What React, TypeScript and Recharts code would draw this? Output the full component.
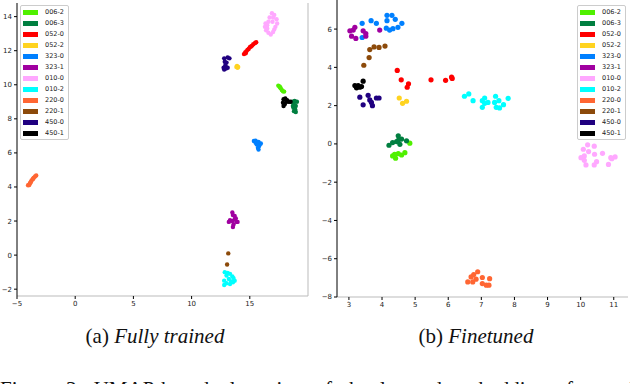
import React from 'react';
import { ScatterChart, Scatter, XAxis, YAxis, Legend } from 'recharts';

const categories = ['006-2', '006-3', '052-0', '052-2', '323-0', '323-1', '010-0', '010-2', '220-0', '220-1', '450-0', '450-1'];
const seriesColors = ['#50f000', '#007f40', '#ff0000', '#ffd320', '#0080ff', '#a000a0', '#ffa8ff', '#00ffff', '#ff6633', '#8c4a0a', '#200080', '#000000'];

// (a) Fully trained
const full_006_2 = [[17.45, 9.95], [17.55, 9.9], [17.65, 9.8], [17.75, 9.7], [17.85, 9.62], [17.95, 9.6], [17.6, 9.85]];
const full_006_3 = [[18.65, 9.0], [18.85, 9.05], [19.05, 9.0], [18.8, 8.85], [18.95, 8.75], [18.75, 8.65], [18.9, 8.55], [18.8, 8.45], [18.95, 8.4], [18.7, 8.75]];
const full_052_0 = [[14.5, 11.8], [14.6, 11.9], [14.7, 11.95], [14.8, 12.05], [14.9, 12.1], [15.0, 12.2], [15.1, 12.25], [15.2, 12.3], [15.3, 12.38], [15.45, 12.45], [15.55, 12.5], [14.65, 11.85]];
const full_052_2 = [[13.9, 11.1], [13.95, 11.0], [14.0, 11.05], [13.85, 11.05]];
const full_323_0 = [[15.35, 6.7], [15.5, 6.72], [15.75, 6.65], [15.95, 6.55], [15.6, 6.5], [15.8, 6.4], [15.7, 6.3], [15.75, 6.2], [15.5, 6.6], [15.85, 6.5]];
const full_323_1 = [[13.5, 2.5], [13.55, 2.35], [13.7, 2.3], [13.8, 2.15], [13.3, 2.05], [13.5, 2.0], [13.85, 1.95], [13.95, 1.95], [13.2, 1.95], [13.6, 1.8], [13.55, 1.65], [13.7, 2.1]];
const full_010_0 = [[16.9, 14.2], [17.1, 14.1], [16.7, 13.95], [17.3, 13.85], [16.6, 13.7], [17.35, 13.6], [16.5, 13.5], [17.2, 13.4], [16.3, 13.4], [16.4, 13.2], [16.6, 13.05], [16.8, 12.95], [17.0, 13.1], [17.1, 13.25], [16.35, 13.6], [16.95, 13.7], [17.0, 13.95], [16.5, 13.3]];
const full_010_2 = [[12.85, -1.0], [13.1, -1.05], [13.3, -1.1], [13.0, -1.2], [13.5, -1.25], [13.6, -1.35], [13.2, -1.4], [12.8, -1.5], [13.4, -1.55], [13.7, -1.5], [13.0, -1.65], [12.8, -1.75], [13.3, -1.7], [13.55, -1.6]];
const full_220_0 = [[-4.05, 4.1], [-3.95, 4.12], [-3.9, 4.2], [-3.8, 4.3], [-3.75, 4.38], [-3.65, 4.45], [-3.55, 4.55], [-3.45, 4.62], [-3.35, 4.68], [-3.85, 4.25], [-3.6, 4.5]];
const full_220_1 = [[13.15, 0.1], [13.05, -0.55]];
const full_450_0 = [[12.8, 11.55], [13.1, 11.6], [13.25, 11.55], [12.85, 11.35], [13.0, 11.3], [12.9, 11.15], [12.75, 11.0], [12.95, 10.95], [13.1, 11.0], [12.8, 10.9]];
const full_450_1 = [[17.9, 9.15], [18.05, 9.2], [18.2, 9.1], [18.35, 9.0], [18.5, 9.0], [17.85, 8.95], [18.0, 8.85], [17.9, 8.75], [18.15, 9.0]];

// (b) Finetuned
const fine_006_2 = [[4.32, -0.63], [4.41, -0.75], [4.49, -0.51], [4.59, -0.58], [4.69, -0.46], [4.84, 0.04], [4.38, -0.55]];
const fine_006_3 = [[4.21, -0.07], [4.32, 0.07], [4.49, 0.42], [4.49, 0.19], [4.54, -0.02], [4.59, 0.25], [4.74, 0.16], [4.44, 0.12]];
const fine_052_0 = [[4.46, 3.84], [4.58, 3.35], [4.8, 3.14], [4.76, 2.96], [5.48, 3.35], [5.92, 3.32], [6.1, 3.49], [6.12, 3.42]];
const fine_052_2 = [[4.52, 2.4], [4.62, 2.12], [4.74, 2.23]];
const fine_323_0 = [[3.4, 6.3], [3.67, 6.44], [3.83, 6.3], [3.4, 5.56], [4.15, 6.72], [4.3, 6.72], [4.15, 6.44], [4.4, 6.51], [4.6, 6.3], [4.13, 6.05], [4.23, 5.95], [4.33, 6.02], [4.48, 6.09]];
const fine_323_1 = [[3.03, 5.91], [3.18, 6.09], [3.08, 5.63], [3.21, 5.51], [3.43, 5.91], [3.51, 5.77], [3.51, 5.63], [3.93, 5.95], [3.13, 5.95]];
const fine_010_0 = [[10.21, -0.05], [10.41, -0.12], [10.08, -0.28], [10.24, -0.4], [10.11, -0.63], [10.42, -0.54], [10.01, -0.72], [10.11, -0.86], [10.16, -1.1], [10.48, -0.93], [10.41, -1.1], [10.66, -0.49], [10.91, -0.72], [11.04, -0.68], [10.94, -0.77], [10.84, -1.07]];
const fine_010_2 = [[6.49, 2.49], [6.62, 2.61], [6.75, 2.26], [7.03, 2.26], [7.1, 2.4], [7.03, 1.91], [7.2, 2.17], [7.43, 2.49], [7.4, 2.17], [7.53, 2.26], [7.45, 1.91], [7.55, 1.88], [7.67, 2.05], [7.81, 2.38], [7.1, 2.12]];
const fine_220_0 = [[6.59, -7.21], [6.69, -6.95], [6.77, -6.83], [6.89, -6.68], [6.84, -7.07], [7.03, -6.98], [7.03, -7.3], [7.15, -7.38], [7.25, -7.04], [7.23, -7.38], [6.74, -7.21]];
const fine_220_1 = [[3.45, 4.11], [3.61, 4.51], [3.63, 4.93], [3.76, 5.07], [3.91, 5.04], [4.09, 5.11]];
const fine_450_0 = [[3.33, 2.44], [3.43, 2.04], [3.58, 2.54], [3.63, 2.3], [3.68, 2.17], [3.71, 2.0], [3.83, 2.4], [3.91, 2.4]];
const fine_450_1 = [[3.18, 3.05], [3.23, 2.93], [3.33, 2.96], [3.38, 3.0], [3.43, 3.28], [3.28, 3.05]];

const fullSeries = [full_006_2, full_006_3, full_052_0, full_052_2, full_323_0, full_323_1, full_010_0, full_010_2, full_220_0, full_220_1, full_450_0, full_450_1];
const fineSeries = [fine_006_2, fine_006_3, fine_052_0, fine_052_2, fine_323_0, fine_323_1, fine_010_0, fine_010_2, fine_220_0, fine_220_1, fine_450_0, fine_450_1];

const fullXTicks = [-5, 0, 5, 10, 15];
const fullYTicks = [-2, 0, 2, 4, 6, 8, 10, 12, 14];
const fineXTicks = [3, 4, 5, 6, 7, 8, 9, 10, 11];
const fineYTicks = [-8, -6, -4, -2, 0, 2, 4, 6];

const toObjs = (arr: number[][]) => arr.map(([x, y]) => ({ x, y }));
const fmt = (v: number) => (v < 0 ? '\u2212' + Math.abs(v) : String(v));

const tickStyle = { fontSize: 7, fill: '#222', fontFamily: 'DejaVu Sans' };

const LegendBox = () => (
  <div
    style={{
      width: 49,
      height: 135,
      border: '1px solid #cccccc',
      borderRadius: 2,
      background: '#fff',
      boxSizing: 'border-box',
      position: 'relative',
      fontFamily: 'DejaVu Sans',
      fontSize: 6.5,
      color: '#222',
    }}
  >
    {categories.map((c, i) => (
      <div key={c} style={{ position: 'absolute', left: 2, top: 3.5 + i * 11, height: 5, display: 'flex', alignItems: 'center' }}>
        <div style={{ width: 15, height: 5, background: seriesColors[i] }} />
        <span style={{ marginLeft: 7, lineHeight: '5px', whiteSpace: 'nowrap' }}>{c}</span>
      </div>
    ))}
  </div>
);

const dot = (color: string, r: number) => (p: any) => <circle cx={p.cx} cy={p.cy} r={r} fill={color} />;

export default function App() {
  return (
    <div style={{ position: 'absolute', left: 0, top: 0, width: 630, height: 384, overflow: 'hidden', background: '#fff' }}>
      <div style={{ position: 'absolute', left: 0, top: 0 }}>
        <ScatterChart width={320} height={310} margin={{ top: 3, right: 11, bottom: 0, left: 0 }}>
          <XAxis
            type="number"
            dataKey="x"
            domain={[-5, 20]}
            ticks={fullXTicks}
            tickFormatter={fmt}
            allowDataOverflow
            height={14}
            axisLine={{ stroke: '#bbbbbb' }}
            tickLine={{ stroke: '#000' }}
            tickSize={3}
            tick={tickStyle}
          />
          <YAxis
            type="number"
            dataKey="y"
            domain={[-2.4, 14.8]}
            ticks={fullYTicks}
            tickFormatter={fmt}
            allowDataOverflow
            width={17}
            axisLine={{ stroke: '#000' }}
            tickLine={{ stroke: '#000' }}
            tickSize={3}
            tick={tickStyle}
          />
          <YAxis yAxisId="r" orientation="right" width={1} tick={false} tickLine={false} axisLine={{ stroke: '#bbbbbb' }} domain={[0, 1]} />
          <Legend layout="vertical" align="center" verticalAlign="middle" content={() => <LegendBox />} wrapperStyle={{ position: 'absolute', left: 20, top: 5, width: 49, height: 135 }} />
          {fullSeries.map((s, i) => (
            <Scatter key={categories[i]} name={categories[i]} data={toObjs(s)} fill={seriesColors[i]} shape={dot(seriesColors[i], 2.2)} isAnimationActive={false} />
          ))}
        </ScatterChart>
      </div>
      <div style={{ position: 'absolute', left: 320, top: 0 }}>
        <ScatterChart width={310} height={311} margin={{ top: 0, right: 2, bottom: 0, left: 0 }}>
          <XAxis
            type="number"
            dataKey="x"
            domain={[2.64, 11.43]}
            ticks={fineXTicks}
            tickFormatter={fmt}
            allowDataOverflow
            height={14}
            axisLine={{ stroke: '#bbbbbb' }}
            tickLine={{ stroke: '#000' }}
            tickSize={3}
            tick={tickStyle}
          />
          <YAxis
            type="number"
            dataKey="y"
            domain={[-8, 7.52]}
            ticks={fineYTicks}
            tickFormatter={fmt}
            allowDataOverflow
            width={17}
            axisLine={{ stroke: '#000' }}
            tickLine={{ stroke: '#000' }}
            tickSize={3}
            tick={tickStyle}
          />
          <Legend layout="vertical" align="center" verticalAlign="middle" content={() => <LegendBox />} wrapperStyle={{ position: 'absolute', left: 257, top: 5, width: 49, height: 135 }} />
          {fineSeries.map((s, i) => (
            <Scatter key={categories[i]} name={categories[i]} data={toObjs(s)} fill={seriesColors[i]} shape={dot(seriesColors[i], 2.6)} isAnimationActive={false} />
          ))}
        </ScatterChart>
      </div>
      <div style={{ position: 'absolute', left: 55, width: 200, top: 326, textAlign: 'center', fontFamily: 'Liberation Serif', fontSize: 21, lineHeight: 1, color: '#111', whiteSpace: 'nowrap' }}>
        (a) <i>Fully trained</i>
      </div>
      <div style={{ position: 'absolute', left: 376, width: 200, top: 326, textAlign: 'center', fontFamily: 'Liberation Serif', fontSize: 21, lineHeight: 1, color: '#111', whiteSpace: 'nowrap' }}>
        (b) <i>Finetuned</i>
      </div>
      <div style={{ position: 'absolute', left: 0, top: 379, fontFamily: 'Liberation Serif', fontSize: 21, lineHeight: 1, color: '#111', whiteSpace: 'nowrap', wordSpacing: 6 }}>
        Figure 3: UMAP-based clustering of the learned embeddings for each
      </div>
    </div>
  );
}
